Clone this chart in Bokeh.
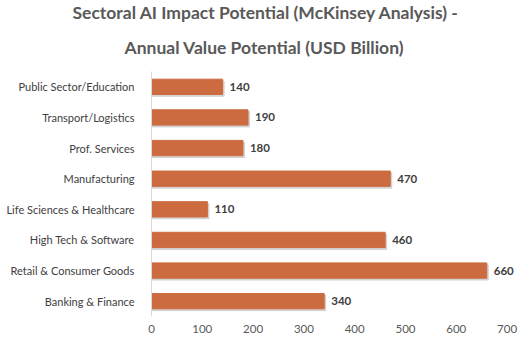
from bokeh.plotting import figure
from bokeh.models import ColumnDataSource, FactorRange, Range1d, Title, LabelSet, FixedTicker
from bokeh.core.properties import value
from bokeh.transform import dodge
from bokeh.embed import file_html
from bokeh.resources import INLINE

categories = ["Banking & Finance", "Retail & Consumer Goods", "High Tech & Software",
              "Life Sciences & Healthcare", "Manufacturing", "Prof. Services",
              "Transport/Logistics", "Public Sector/Education"]
values = [340, 660, 460, 110, 470, 180, 190, 140]
x_ticks = [0, 100, 200, 300, 400, 500, 600, 700]

FONT = "Lato"
src = ColumnDataSource(dict(cat=categories, val=values, lbl=[str(v) for v in values]))

p = figure(width=532, height=347, output_backend="svg", toolbar_location=None,
           y_range=FactorRange(*categories, range_padding=0), x_range=Range1d(0, 750),
           min_border_left=151, min_border_right=0, min_border_bottom=31, min_border_top=71)
p.title.visible = False
p.add_layout(Title(text="Annual Value Potential (USD Billion)", align="left", offset=-27,
                   text_font=FONT, text_font_size="17.5px", text_color="#595959",
                   text_font_style="bold", standoff=27), "above")
p.add_layout(Title(text="Sectoral AI Impact Potential (McKinsey Analysis) -", align="left",
                   offset=-79, text_font=FONT, text_font_size="17.5px", text_color="#595959",
                   text_font_style="bold", standoff=-3), "above")

p.hbar(y=dodge("cat", -0.06, range=p.y_range), right=dodge("val", 3), left=1.5, height=0.5,
       source=src, color="#BFBFBF", alpha=0.6)
p.hbar(y="cat", right="val", left=0, height=0.5, source=src, color="#CC6B3F")

labels = LabelSet(x="val", y="cat", text="lbl", source=src, x_offset=7, y_offset=0,
                  text_baseline="middle", text_font=value(FONT), text_font_size=value("11.5px"),
                  text_font_style="bold", text_color="#404040")
p.add_layout(labels)

p.xgrid.visible = False
p.ygrid.visible = False
p.outline_line_color = None
p.xaxis.ticker = FixedTicker(ticks=x_ticks)
p.xaxis.axis_line_color = None
p.xaxis.major_tick_line_color = None
p.xaxis.minor_tick_line_color = None
p.xaxis.major_label_text_font = FONT
p.xaxis.major_label_text_font_size = "11.5px"
p.xaxis.major_label_text_color = "#595959"
p.xaxis.major_label_standoff = 2
p.yaxis.axis_line_color = "#D9D9D9"
p.yaxis.major_tick_line_color = None
p.yaxis.minor_tick_line_color = None
p.yaxis.major_label_text_font = FONT
p.yaxis.major_label_text_font_size = "11px"
p.yaxis.major_label_text_color = "#404040"
p.yaxis.major_label_standoff = 11

open("out.html", "w").write(file_html(p, INLINE))
